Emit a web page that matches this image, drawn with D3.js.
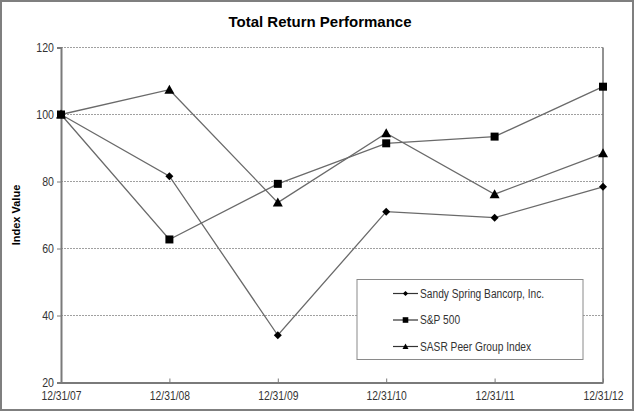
<!DOCTYPE html>
<html><head><meta charset="utf-8">
<script src="https://cdn.jsdelivr.net/npm/d3@7"></script>
<style>
html,body{margin:0;padding:0;background:#fff;}
svg{display:block;}
text{font-family:Arial,"Liberation Sans",sans-serif;}
</style></head>
<body>
<svg id="c" width="635" height="413"></svg>
<script>
const dates = ["12/31/07","12/31/08","12/31/09","12/31/10","12/31/11","12/31/12"];
const sandySpring = [100, 81.6, 34.1, 71.0, 69.2, 78.4];
const sp500 = [100, 62.7, 79.3, 91.4, 93.4, 108.3];
const peerGroup = [100, 107.4, 73.7, 94.4, 76.2, 88.4];
const yTicks = [20, 40, 60, 80, 100, 120];
const seriesNames = ["Sandy Spring Bancorp, Inc.", "S&P 500", "SASR Peer Group Index"];
const markers = ["diamond", "square", "triangle"];

const series = [sandySpring, sp500, peerGroup].map((v,i)=>({name:seriesNames[i], values:v, marker:markers[i]}));

const svg = d3.select("#c");
const W = 635, H = 413;
const m = {left:61, right:603, top:47.5, bottom:382.5};

function condense(sel, f){
  sel.each(function(){
    const L = this.getComputedTextLength();
    d3.select(this).attr("textLength", L*f).attr("lengthAdjust","spacingAndGlyphs");
  });
}

// outer frame
svg.append("rect").attr("x",1).attr("y",1).attr("width",W-3).attr("height",H-4)
  .attr("fill","#fff").attr("stroke","#7f7f7f").attr("stroke-width",2);

const x = d3.scalePoint().domain(dates).range([m.left, m.right]);
const y = d3.scaleLinear().domain([20,120]).range([m.bottom, m.top]);

// gridlines
svg.append("g").selectAll("line").data(yTicks.filter(t=>t>20)).join("line")
  .attr("x1",m.left).attr("x2",m.right)
  .attr("y1",d=>y(d)).attr("y2",d=>y(d))
  .attr("stroke","#a0a0a0").attr("stroke-width",1).attr("stroke-dasharray","2,1");

// right border
svg.append("line").attr("x1",m.right).attr("x2",m.right).attr("y1",m.top).attr("y2",m.bottom)
  .attr("stroke","#6e6e6e").attr("stroke-width",1.5);

// y axis
const yAxis = d3.axisLeft(y).tickValues(yTicks).tickSize(4).tickPadding(3);
const gy = svg.append("g").attr("transform",`translate(${m.left},0)`).call(yAxis);
gy.select(".domain").attr("stroke","#7a7a7a").attr("stroke-width",2);
gy.selectAll(".tick line").attr("stroke","#7a7a7a").attr("stroke-width",1);
gy.selectAll(".tick text").attr("font-size",12).attr("fill","#333")
  .attr("font-family","Arial, 'Liberation Sans', sans-serif").call(condense, 0.88);

// x axis
const xAxis = d3.axisBottom(x).tickSize(0).tickPadding(9);
const gx = svg.append("g").attr("transform",`translate(0,${m.bottom})`).call(xAxis);
gx.select(".domain").attr("stroke","#7a7a7a").attr("stroke-width",2);
gx.selectAll(".tick text").attr("font-size",12).attr("fill","#333")
  .attr("font-family","Arial, 'Liberation Sans', sans-serif").call(condense, 0.86);
gx.selectAll(".tick").append("line").attr("y1",0).attr("y2",-4).attr("stroke","#7a7a7a");

// lines
const line = d3.line().x((d,i)=>x(dates[i])).y(d=>y(d));
svg.append("g").selectAll("path").data(series).join("path")
  .attr("d",d=>line(d.values)).attr("fill","none").attr("stroke","#6a6a6a").attr("stroke-width",1.3);

function markerPath(type){
  if(type==="square") return d3.symbol(d3.symbolSquare, 64)();
  if(type==="diamond") return "M0,-4L4,0L0,4L-4,0Z";
  return "M0,-5L5,4L-5,4Z";
}
series.forEach(s=>{
  svg.append("g").selectAll("path").data(s.values).join("path")
    .attr("transform",(d,i)=>`translate(${x(dates[i])},${y(d)})`)
    .attr("d",markerPath(s.marker)).attr("fill","#000");
});

// title
svg.append("text").attr("x",320).attr("y",27).attr("text-anchor","middle")
  .attr("font-size",15).attr("font-weight","bold").attr("fill","#000")
  .text("Total Return Performance");

// y title
svg.append("text").attr("transform","translate(20,215) rotate(-90)").attr("text-anchor","middle")
  .attr("font-size",11).attr("font-weight","bold").attr("fill","#000").text("Index Value");

// legend
const lg = svg.append("g");
lg.append("rect").attr("x",357).attr("y",279.5).attr("width",226).attr("height",80)
  .attr("fill","#fff").attr("stroke","#8a8a8a").attr("stroke-width",1);
const ly = [293.5, 320, 346.5];
series.forEach((s,i)=>{
  lg.append("line").attr("x1",393).attr("x2",418).attr("y1",ly[i]).attr("y2",ly[i])
    .attr("stroke","#333").attr("stroke-width",1.2);
  const sc = s.marker==="square"?0.7:(s.marker==="triangle"?0.6:0.65);
  lg.append("path").attr("transform",`translate(405.5,${ly[i]}) scale(${sc})`)
    .attr("d",markerPath(s.marker)).attr("fill","#000");
  lg.append("text").attr("x",420).attr("y",ly[i]).attr("dy","0.35em")
    .attr("font-size",12).attr("fill","#333")
    .attr("font-family","Arial, 'Liberation Sans', sans-serif")
    .text(s.name).call(condense, 0.85);
});
</script>
</body></html>
